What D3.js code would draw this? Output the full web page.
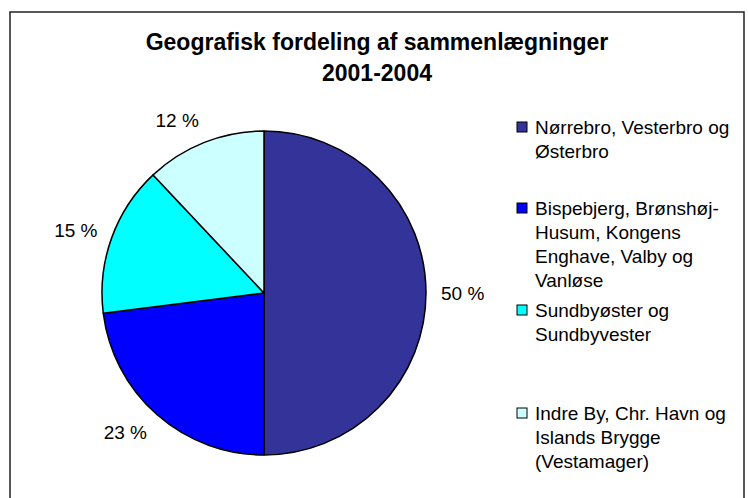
<!DOCTYPE html>
<html>
<head>
<meta charset="utf-8">
<script src="https://cdn.jsdelivr.net/npm/d3@7"></script>
<style>
  body { margin: 0; background: #fff; }
  text { font-family: "Liberation Sans", Arial, sans-serif; fill: #000; }
</style>
</head>
<body>
<div id="chart"></div>
<script>
// chart data
var categories = [
  ["Nørrebro, Vesterbro og", "Østerbro"],
  ["Bispebjerg, Brønshøj-", "Husum, Kongens", "Enghave, Valby og", "Vanløse"],
  ["Sundbyøster og", "Sundbyvester"],
  ["Indre By, Chr. Havn og", "Islands Brygge", "(Vestamager)"]
];
var values = [50, 23, 15, 12];
var colors = ["#333399", "#0000FF", "#00FFFF", "#CCFFFF"];
var titleLines = ["Geografisk fordeling af sammenlægninger", "2001-2004"];

var svgWidth = 748;
var svgHeight = 498;

var cx = 264, cy = 293, radius = 162;

// legend layout (first line of each entry)
var legendTop = [127, 208, 310, 413];
var lineHeight = 24;

var svg = d3.select("#chart")
  .append("svg")
  .attr("width", svgWidth)
  .attr("height", svgHeight);

// chart frame
svg.append("rect")
  .attr("x", 10)
  .attr("y", 12)
  .attr("width", 734)
  .attr("height", 500)
  .attr("fill", "#fff")
  .attr("stroke", "#222")
  .attr("stroke-width", 1.5);

// title
svg.selectAll(".title")
  .data(titleLines)
  .enter()
  .append("text")
  .attr("class", "title")
  .attr("x", 377)
  .attr("y", (d, i) => 42 + i * 31)
  .attr("dy", "0.35em")
  .attr("text-anchor", "middle")
  .attr("font-size", 23)
  .attr("font-weight", "bold")
  .text(d => d);

// pie
var pie = d3.pie().sort(null).value(d => d);
var arc = d3.arc().innerRadius(0).outerRadius(radius);
var labelArc = d3.arc().innerRadius(radius + 15).outerRadius(radius + 15);
var arcs = pie(values);

var pieGroup = svg.append("g")
  .attr("transform", `translate(${cx}, ${cy})`);

pieGroup.selectAll("path")
  .data(arcs)
  .enter()
  .append("path")
  .attr("d", arc)
  .attr("fill", (d, i) => colors[i])
  .attr("stroke", "#000")
  .attr("stroke-width", 1.5)
  .attr("stroke-linejoin", "round");

// percentage labels just outside the slices
pieGroup.selectAll(".pct")
  .data(arcs)
  .enter()
  .append("text")
  .attr("class", "pct")
  .attr("font-size", 19)
  .attr("dy", "0.35em")
  .attr("text-anchor", d => labelArc.centroid(d)[0] >= 0 ? "start" : "end")
  .attr("x", d => labelArc.centroid(d)[0])
  .attr("y", d => labelArc.centroid(d)[1] * 1.05)
  .text(d => d.value + " %");

// legend
var legend = svg.selectAll(".legend")
  .data(categories)
  .enter()
  .append("g")
  .attr("class", "legend")
  .attr("transform", (d, i) => `translate(517, ${legendTop[i]})`);

legend.append("rect")
  .attr("x", 0)
  .attr("y", -5)
  .attr("width", 10)
  .attr("height", 10)
  .attr("fill", (d, i) => colors[i])
  .attr("stroke", "#000")
  .attr("stroke-width", 1);

legend.append("text")
  .attr("font-size", 19)
  .selectAll("tspan")
  .data(d => d)
  .enter()
  .append("tspan")
  .attr("x", 18)
  .attr("y", (d, i) => i * lineHeight)
  .attr("dy", "0.35em")
  .text(d => d);
</script>
</body>
</html>
